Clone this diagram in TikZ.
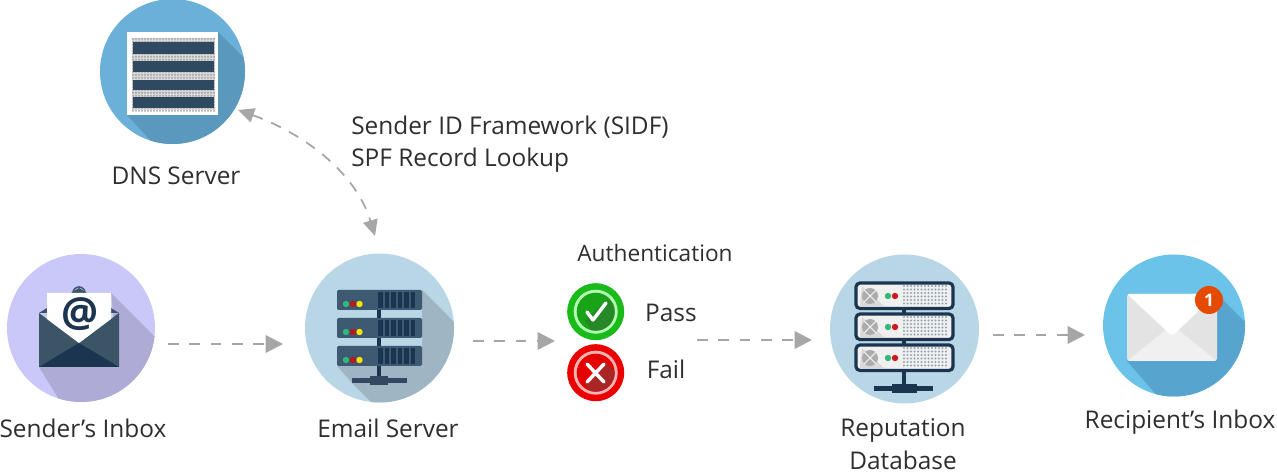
\documentclass[tikz,border=0pt]{standalone}
\usepackage{fontspec}
\setmainfont{Open Sans}
\usetikzlibrary{arrows.meta}
\definecolor{txt}{HTML}{2E2E2E}
\definecolor{dnsc}{HTML}{6BB0D8}\definecolor{dnss}{HTML}{5A98BE}
\definecolor{sendc}{HTML}{C9C8F8}\definecolor{sends}{HTML}{AEACD6}
\definecolor{srvc}{HTML}{B9D6E6}\definecolor{srvs}{HTML}{9FB5C4}
\definecolor{recc}{HTML}{6CC3EA}\definecolor{recs}{HTML}{57A5CF}
\definecolor{navy}{HTML}{1B3550}\definecolor{slate}{HTML}{3E5A72}
\definecolor{bar}{HTML}{2F4A60}\definecolor{envb}{HTML}{3B5566}
\definecolor{flow}{HTML}{A6A6A6}
\tikzset{
  lbl/.style={font=\fontsize{18.3pt}{24.5pt}\selectfont,text=txt,inner sep=0pt,align=center},
  disc/.style={circle,inner sep=0pt,minimum size=#1*0.75pt},
  flowline/.style={draw=flow,line width=1.7pt,dash pattern=on 8pt off 8pt,-{Triangle[length=13pt,width=13pt,fill=flow]}},
  flowboth/.style={draw=flow,line width=1.3pt,dash pattern=on 8pt off 7pt,{Triangle[length=12pt,width=11pt,fill=flow]}-{Triangle[length=12pt,width=11pt,fill=flow]}}
}
\begin{document}
\begin{tikzpicture}[x=0.75pt,y=-0.75pt]
\useasboundingbox (0,0) rectangle (1277,473);
% DNS
\node[disc=145,fill=dnsc] (dns) at (172.5,71.5) {};
\begin{scope}
\clip (172.5,71.5) circle (72.5);
\fill[dnss] (218,32) -- (320,134) -- (229,225) -- (127,115) -- cycle;
\end{scope}
\fill[white] (127,32) rectangle (218,115);
\fill[gray!30] (132,38) rectangle (215,110);
\foreach \y in {39,42,...,111}{\foreach \x in {133,136,...,214}{\fill[gray!75] (\x,\y) circle (1);}}
\foreach \a/\b in {42/54,61/72,80/90,97/108}{\fill[bar] (133,\a) rectangle (214,\b);}
% Sender
\node[disc=148,fill=sendc] (sender) at (81,328) {};
\begin{scope}
\clip (81,328) circle (74);
\fill[sends] (111,293) -- (240,422) -- (90,450) -- (39,367) -- (119,367) -- cycle;
\end{scope}
\draw[slate,line width=1.2pt] (79,293) circle (6);
\fill[envb] (39,313) -- (79,288) -- (119,313) -- cycle;
\fill[envb] (39,313) -- (79,343) -- (119,313) -- (119,367) -- (39,367) -- cycle;
\fill[white] (47,319) -- (79,343) -- (111,319) -- (111,293) -- (47,293) -- cycle;
\fill[navy] (39,367) -- (79,343) -- (119,367) -- cycle;
\node[font=\fontsize{31pt}{31pt}\selectfont\bfseries,text=navy,inner sep=0pt] (atsign) at (80,314) {@};
% Email server
\node[disc=149,fill=srvc] (email) at (379.5,328) {};
\begin{scope}
\clip (379.5,328) circle (74.5);
\fill[srvs] (422,290) -- (560,428) -- (440,470) -- (352,383) -- (337,366) -- (422,366) -- cycle;
\end{scope}
\fill[navy] (377,310) rectangle (381,378);
\foreach \t/\dy in {290/304,318/332,346/360}{
  \fill[slate,rounded corners=1pt] (337,\t) rectangle (422,\t+20);
  \foreach \x in {378,384.5,...,416}{\fill[navy] (\x,\t+2) rectangle (\x+4.5,\t+18);}
  \fill[teal!70!green!80!white] (346,\dy) circle (3.2);
  \fill[red!70!black!90!white] (353,\dy) circle (3.2);
  \fill[yellow!85!orange] (359.5,\dy) circle (3.2);
}
\fill[navy!90!white] (352,378) rectangle (407,383);
\fill[navy!90!white] (370,376) rectangle (388,385);
% Pass and fail
\node[disc=57,fill=green!70!black!90!white] (pass) at (595.7,311.7) {};
\fill[white!70!green] (595.7,311.7) circle (22);
\fill[green!60!black!90!white] (595.7,311.7) circle (19);
\begin{scope}\clip (595.7,311.7) circle (19);
\fill[green!45!black!85!white] (608,299) -- (630,321) -- (600,345) -- (585,320) -- cycle;
\end{scope}
\draw[white,line width=2.6pt,line cap=round,line join=round] (587,312) -- (593,320) -- (606,303);
\node[disc=57,fill=red!92!black] (fail) at (595.7,372.7) {};
\fill[white!70!red] (595.7,372.7) circle (22);
\fill[red!90!black] (595.7,372.7) circle (19);
\begin{scope}\clip (595.7,372.7) circle (19);
\fill[red!60!black!85!white] (605,362) -- (630,385) -- (600,405) -- (585,384) -- cycle;
\end{scope}
\draw[white,line width=2.6pt,line cap=round] (587,364) -- (604,382) (604,364) -- (587,382);
% Reputation database
\node[disc=149,fill=srvc] (repdb) at (904.5,329) {};
\fill[navy] (902,308) rectangle (906,388);
\foreach \t in {283,314,345}{
  \draw[navy,line width=2.4pt,fill=gray!12,rounded corners=3pt] (856,\t) rectangle (953,\t+25.5);
  \fill[gray!30] (862,\t+3) -- (884,\t+23) -- (860,\t+23) -- cycle;
  \fill[gray!65] (870,\t+13) circle (8);
  \draw[gray!12,line width=0.8pt] (864,\t+7) -- (876,\t+19) (876,\t+7) -- (864,\t+19);
  \fill[teal!70!green!80!white] (888,\t+13) circle (3.2);
  \fill[red!80!black!90!white] (895,\t+13) circle (3.2);
  \foreach \x in {904,907.5,...,947}{\foreach \y in {3,6.5,...,23}{\fill[slate!55] (\x,\t+\y) circle (1.1);}}
}
\fill[navy] (874,386) rectangle (933,391);
\fill[navy] (892,384) rectangle (917,393);
% Recipient
\node[disc=142,fill=recc] (recipient) at (1174,325.5) {};
\begin{scope}
\clip (1174,325.5) circle (71);
\fill[recs] (1217,294) -- (1320,397) -- (1230,480) -- (1127,361) -- cycle;
\end{scope}
\fill[gray!22,rounded corners=2pt] (1127,294) rectangle (1217,361);
\fill[gray!12,rounded corners=2pt] (1127,361) -- (1172,325) -- (1217,361) -- cycle;
\fill[white,rounded corners=1.5pt] (1127,294) -- (1217,294) -- (1172,336) -- cycle;
\node[disc=28,fill=orange!65!red!90!black,text=white,font=\fontsize{13pt}{13pt}\selectfont\bfseries] (badge) at (1209,300) {1};
% Labels
\node[lbl] (ldns) at (176,176) {DNS Server};
\node[lbl] (lsender) at (83,428) {Sender's Inbox};
\node[lbl] (lemail) at (388,428) {Email Server};
\node[lbl] (lrep) at (903,444) {Reputation\\Database};
\node[lbl] (lrec) at (1180,422) {Recipient's Inbox};
\node[lbl,font=\fontsize{17pt}{20pt}\selectfont] (lauth) at (655,253) {Authentication};
\node[lbl] (lpass) at (671,313) {Pass};
\node[lbl] (lfail) at (666,369) {Fail};
\node[lbl,anchor=west] (lsidf) at (351,127) {Sender ID Framework (SIDF)};
\node[lbl,anchor=west] (lspf) at (351,160) {SPF Record Lookup};
% Connector ends
\coordinate (a1) at (168,344); \coordinate (a2) at (283,344);
\coordinate (b1) at (473,341); \coordinate (b2) at (555,341);
\coordinate (c1) at (697,340); \coordinate (c2) at (812,340);
\coordinate (d1) at (993,335); \coordinate (d2) at (1085,335);
\coordinate (e1) at (238,110); \coordinate (e2) at (375,236);
\draw[flowline] (a1) -- (a2);
\draw[flowline] (b1) -- (b2);
\draw[flowline] (c1) -- (c2);
\draw[flowline] (d1) -- (d2);
\draw[flowboth] (e1) .. controls (300,132) and (355,170) .. (e2);
\end{tikzpicture}
\end{document}
